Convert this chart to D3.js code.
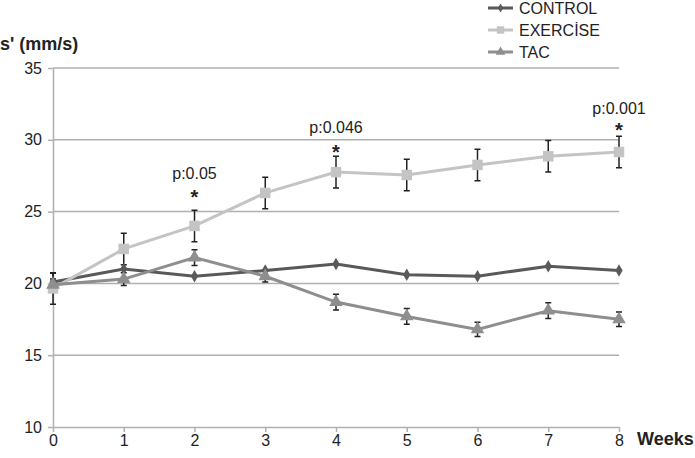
<!DOCTYPE html>
<html>
<head>
  <meta charset="UTF-8">
  <title>s' weeks</title>
  <style type="text/css">
    body { margin: 0; background: #fff; }
    text { font-family: "Liberation Sans", Arial, sans-serif; fill: #222; }
    .grid line { stroke: #b0b0b0; stroke-width: 1.5px; }
    .axis path, .axis line { stroke: #b0b0b0; stroke-width: 1.5px; }
    .axis text { font-size: 16px; fill: #222; font-family: "Liberation Sans", Arial, sans-serif; }
    .err { stroke: #222; stroke-width: 1.5px; fill: none; }
  </style>
</head>
<body>
  <div class="svg-zone"></div>
  <script src="https://cdn.jsdelivr.net/npm/d3@7"></script>
  <script type="text/javascript">
    var weeks = [0, 1, 2, 3, 4, 5, 6, 7, 8];
    var yTicks = [10, 15, 20, 25, 30, 35];

    var control = [20.1, 21.0, 20.5, 20.9, 21.35, 20.6, 20.5, 21.2, 20.9];
    var controlErr = [0.6, 0, 0, 0, 0, 0, 0, 0, 0];
    var exercise = [19.65, 22.4, 24.0, 26.3, 27.75, 27.55, 28.25, 28.85, 29.15];
    var exerciseErr = [1.1, 1.1, 1.1, 1.1, 1.1, 1.1, 1.1, 1.1, 1.1];
    var tac = [19.9, 20.3, 21.8, 20.5, 18.7, 17.7, 16.8, 18.1, 17.5];
    var tacErr = [0.4, 0.45, 0.55, 0.4, 0.55, 0.55, 0.5, 0.55, 0.5];

    // p values with the y value (in mm/s) where the label and the star sit
    var pWeeks = [2, 4, 8];
    var pTexts = ["p:0.05", "p:0.046", "p:0.001"];
    var pLabelAt = [27.24, 30.47, 31.8];
    var pStarAt = [26.16, 29.29, 30.82];

    var width = 695, height = 458;
    var x = d3.scaleLinear().domain([0, 8]).range([53, 619]);
    var y = d3.scaleLinear().domain([10, 35]).range([427, 68]);

    var svg = d3.select(".svg-zone").append("svg")
      .attr("width", width)
      .attr("height", height);

    // horizontal gridlines
    svg.append("g").attr("class", "grid")
      .selectAll("line")
      .data(yTicks.filter(function (d) { return d > 10; }))
      .enter().append("line")
      .attr("x1", x(0)).attr("x2", x(8))
      .attr("y1", function (d) { return y(d); })
      .attr("y2", function (d) { return y(d); });

    svg.append("g").attr("class", "axis")
      .attr("transform", "translate(0," + y(10) + ")")
      .call(d3.axisBottom(x).tickValues(weeks).tickFormat(d3.format("d")).tickSize(5).tickSizeOuter(0).tickPadding(3));

    svg.append("g").attr("class", "axis")
      .attr("transform", "translate(" + x(0) + ",0)")
      .call(d3.axisLeft(y).tickValues(yTicks).tickSize(5).tickSizeOuter(0).tickPadding(6));

    svg.selectAll(".axis .domain").attr("stroke", "#b0b0b0");

    svg.append("text").attr("x", 0).attr("y", 50)
      .style("font-size", "18px").style("font-weight", "bold")
      .text("s' (mm/s)");
    svg.append("text").attr("x", 637).attr("y", 445)
      .style("font-size", "18px").style("font-weight", "bold")
      .text("Weeks");

    var series = [
      { name: "CONTROL", values: control, err: controlErr, color: "#595959", shape: d3.symbolDiamond, size: 45 },
      { name: "EXERCİSE", values: exercise, err: exerciseErr, color: "#c4c4c4", shape: d3.symbolSquare, size: 110 },
      { name: "TAC", values: tac, err: tacErr, color: "#8e8e8e", shape: d3.symbolTriangle, size: 80 }
    ];

    var line = d3.line()
      .x(function (d, i) { return x(weeks[i]); })
      .y(function (d) { return y(d); });

    // error bars
    series.forEach(function (s) {
      var g = svg.append("g");
      s.values.forEach(function (v, i) {
        var e = s.err[i];
        if (!e) return;
        var cx = x(weeks[i]);
        g.append("path").attr("class", "err")
          .attr("d", "M" + cx + "," + y(v - e) + "V" + y(v + e) +
            "M" + (cx - 3) + "," + y(v + e) + "H" + (cx + 3) +
            "M" + (cx - 3) + "," + y(v - e) + "H" + (cx + 3));
      });
    });

    // lines and markers
    series.forEach(function (s) {
      svg.append("path")
        .datum(s.values)
        .attr("d", line)
        .attr("fill", "none")
        .attr("stroke", s.color)
        .attr("stroke-width", 3);
      svg.append("g").selectAll("path")
        .data(s.values)
        .enter().append("path")
        .attr("d", d3.symbol().type(s.shape).size(s.size))
        .attr("fill", s.color)
        .attr("transform", function (d, i) { return "translate(" + x(weeks[i]) + "," + y(d) + ")"; });
    });

    // significance labels
    var ann = svg.append("g");
    pWeeks.forEach(function (w, i) {
      ann.append("text").attr("x", x(w)).attr("y", y(pStarAt[i]) + 8.6)
        .attr("text-anchor", "middle").style("font-size", "20px").style("font-weight", "bold").text("*");
      ann.append("text").attr("x", x(w)).attr("y", y(pLabelAt[i]))
        .attr("text-anchor", "middle").style("font-size", "16px").text(pTexts[i]);
    });

    // legend
    var legend = svg.append("g").attr("transform", "translate(488,8)");
    series.forEach(function (s, i) {
      var row = legend.append("g").attr("transform", "translate(0," + (i * 22) + ")");
      row.append("line").attr("x1", 0).attr("x2", 25)
        .attr("stroke", s.color).attr("stroke-width", 3);
      row.append("path")
        .attr("d", d3.symbol().type(s.shape).size(s.size * 0.5))
        .attr("fill", s.color)
        .attr("transform", "translate(12.5,0)");
      row.append("text").attr("x", 31).attr("y", 6)
        .style("font-size", "16px").text(s.name);
    });
  </script>
</body>
</html>
